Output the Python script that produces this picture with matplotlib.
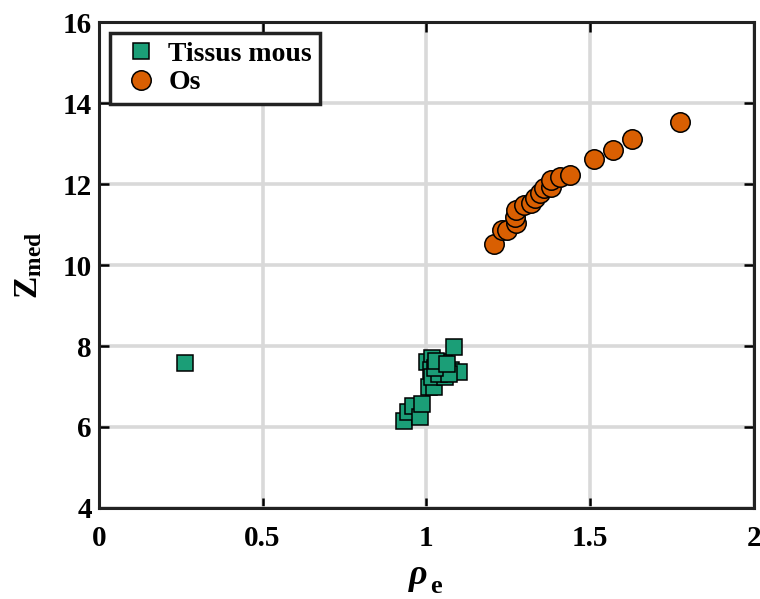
import numpy as np
import matplotlib
matplotlib.use("Agg")
import matplotlib.pyplot as plt

# electron density (rho_e) and effective Z for each material group
tissue_rho = [0.262, 0.931, 0.944, 0.959, 0.980, 0.986, 1.008, 1.023, 1.002, 1.017,
              1.032, 1.014, 1.017, 1.053, 1.058, 1.075, 1.099, 1.085, 1.045, 1.040,
              1.070, 1.025, 1.030, 1.062]
tissue_z = [7.58, 6.15, 6.37, 6.52, 6.25, 6.57, 6.99, 6.99, 7.60, 7.70,
            7.53, 7.41, 7.24, 7.60, 7.24, 7.41, 7.36, 7.98, 7.50, 7.30,
            7.30, 7.45, 7.62, 7.55]

bone_rho = [1.208, 1.230, 1.245, 1.275, 1.272, 1.275, 1.297, 1.318, 1.333, 1.348,
            1.358, 1.379, 1.382, 1.409, 1.437, 1.513, 1.571, 1.629, 1.775]
bone_z = [10.52, 10.86, 10.86, 11.04, 11.19, 11.36, 11.48, 11.53, 11.65, 11.78,
          11.90, 11.93, 12.10, 12.18, 12.22, 12.62, 12.84, 13.11, 13.53]

xticks = [0, 0.5, 1, 1.5, 2]
xticklabels = ['0', '0.5', '1', '1.5', '2']
yticks = [4, 6, 8, 10, 12, 14, 16]

plt.rcParams['font.family'] = 'Liberation Serif'
plt.rcParams['font.weight'] = 'bold'
plt.rcParams['mathtext.fontset'] = 'custom'
plt.rcParams['mathtext.rm'] = 'Liberation Serif'
plt.rcParams['mathtext.it'] = 'Liberation Serif:italic'
plt.rcParams['mathtext.bf'] = 'Liberation Serif:bold'

fig = plt.figure(figsize=(7.6, 5.99), dpi=100)
ax = fig.add_axes([0.130, 0.152, 0.862, 0.811])

ax.grid(True, color='#d9d9d9', linewidth=2.6, zorder=0)
ax.set_axisbelow(True)

ax.plot(tissue_rho, tissue_z, 's', ms=11.5, mfc='#1b9e77', mec='black', mew=1.1,
        label='Tissus mous', zorder=3)
ax.plot(bone_rho, bone_z, 'o', ms=14, mfc='#d95f02', mec='black', mew=1.1,
        label='Os', zorder=3)

ax.set_xlim(0, 2)
ax.set_ylim(4, 16)
ax.set_xticks(xticks)
ax.set_xticklabels(xticklabels)
ax.set_yticks(yticks)
ax.tick_params(direction='in', length=7, width=1.8, labelsize=21,
               top=True, right=True)
ax.tick_params(axis='x', pad=12)
ax.tick_params(axis='y', pad=5)
for sp in ax.spines.values():
    sp.set_linewidth(2.2)
    sp.set_color('#222222')

# x label: italic rho with a low bold subscript
ax.annotate(r'$\rho$', xy=(0.5, 0), xycoords='axes fraction',
            xytext=(-6, -38), textcoords='offset points',
            fontsize=26, ha='center', va='top')
ax.annotate('e', xy=(0.5, 0), xycoords='axes fraction',
            xytext=(7, -48), textcoords='offset points',
            fontsize=19, fontweight='bold', ha='center', va='top')
ax.set_ylabel(r'$\mathbf{Z_{med}}$', fontsize=24, labelpad=13)

leg = ax.legend(loc='upper left', fontsize=20, fancybox=False, framealpha=1,
                edgecolor='#222222', borderaxespad=0.4, handletextpad=0.15,
                borderpad=0.3, labelspacing=0.1, handlelength=1.65)
leg.get_frame().set_linewidth(2.5)

fig.savefig('out.png', dpi=100)
